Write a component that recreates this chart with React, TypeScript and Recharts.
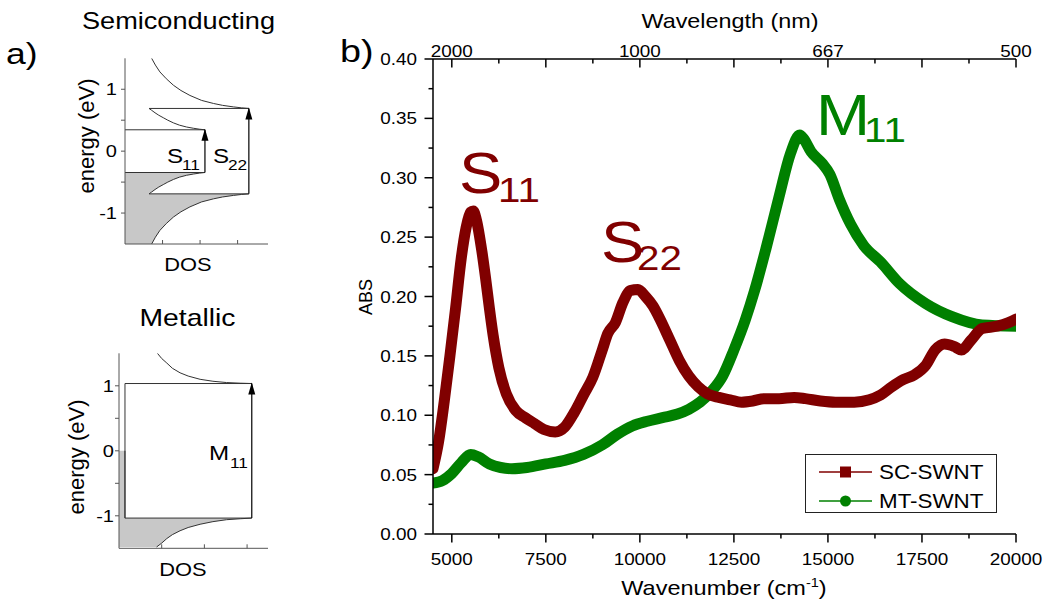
import * as React from 'react';
import { ComposedChart, LineChart, Line, Area, XAxis, YAxis, Legend } from 'recharts';

// ---------- panel b: absorbance spectra ----------
const scWave = [4500, 4650, 4800, 4950, 5100, 5250, 5380, 5500, 5570, 5650, 5800, 5900, 6000, 6100, 6250, 6450, 6700, 6950, 7200, 7450, 7750, 8000, 8250, 8500, 8750, 9000, 9150, 9350, 9550, 9750, 9950, 10150, 10350, 10550, 10800, 11050, 11300, 11550, 11800, 12100, 12400, 12700, 13000, 13300, 13700, 14100, 14400, 14800, 15200, 15700, 16100, 16400, 16700, 17000, 17300, 17600, 17850, 18100, 18350, 18550, 18800, 19100, 19500, 19800, 20000];
const scAbs = [0.055, 0.078, 0.112, 0.150, 0.190, 0.232, 0.258, 0.271, 0.272, 0.265, 0.238, 0.215, 0.190, 0.167, 0.140, 0.118, 0.104, 0.098, 0.093, 0.088, 0.086, 0.090, 0.102, 0.117, 0.132, 0.155, 0.169, 0.178, 0.195, 0.205, 0.206, 0.200, 0.192, 0.180, 0.163, 0.146, 0.133, 0.124, 0.118, 0.115, 0.113, 0.111, 0.112, 0.114, 0.114, 0.115, 0.114, 0.112, 0.111, 0.111, 0.113, 0.117, 0.124, 0.130, 0.134, 0.142, 0.155, 0.160, 0.158, 0.155, 0.163, 0.173, 0.175, 0.178, 0.181];

const mtWave = [4500, 4750, 5000, 5250, 5500, 5700, 6000, 6300, 6600, 7000, 7500, 8000, 8500, 9000, 9400, 9800, 10200, 10600, 11000, 11300, 11600, 11900, 12200, 12500, 12800, 13050, 13350, 13700, 14000, 14250, 14350, 14550, 14850, 15050, 15300, 15600, 15950, 16400, 16900, 17600, 18300, 19100, 20000];
const mtAbs = [0.043, 0.045, 0.051, 0.060, 0.067, 0.065, 0.059, 0.056, 0.055, 0.056, 0.059, 0.062, 0.067, 0.075, 0.084, 0.091, 0.095, 0.098, 0.101, 0.105, 0.111, 0.120, 0.133, 0.155, 0.180, 0.205, 0.240, 0.284, 0.320, 0.336, 0.333, 0.322, 0.312, 0.303, 0.282, 0.261, 0.243, 0.229, 0.211, 0.194, 0.183, 0.176, 0.175];

const waveTicks = [5000, 6250, 7500, 8750, 10000, 11250, 12500, 13750, 15000, 16250, 17500, 18750, 20000];
const nmLabels: Record<number, string> = { 5000: '2000', 10000: '1000', 15000: '667', 20000: '500' };
const absTicks = [0, 0.025, 0.05, 0.075, 0.1, 0.125, 0.15, 0.175, 0.2, 0.225, 0.25, 0.275, 0.3, 0.325, 0.35, 0.375, 0.4];

const seriesNames = ['SC-SWNT', 'MT-SWNT'];
const seriesColors = ['#800000', '#008000'];

// ---------- panel a: DOS sketches (d = DOS, e = energy in eV) ----------
const semiCondD = [0, 2.13, 1.98, 1.82, 1.64, 1.45, 1.29, 1.14, 1.02, 0.90, 0.80, 0.71, 0.64, 3.3, 3.1, 2.89, 2.6, 2.36, 2.04, 1.73, 1.49, 1.29, 1.10, 0.93, 0.81, 0.71];
const semiCondE = [0.345, 0.345, 0.355, 0.37, 0.39, 0.42, 0.457, 0.50, 0.54, 0.58, 0.62, 0.66, 0.69, 0.69, 0.70, 0.715, 0.74, 0.77, 0.82, 0.90, 0.98, 1.065, 1.17, 1.28, 1.39, 1.5];
const semiValD = [0, 2.13, 1.98, 1.82, 1.64, 1.45, 1.29, 1.14, 1.02, 0.90, 0.80, 0.71, 0.64, 3.3, 3.1, 2.89, 2.6, 2.36, 2.04, 1.73, 1.49, 1.29, 1.10, 0.93, 0.81, 0.71];
const semiValE = [-0.345, -0.345, -0.355, -0.37, -0.39, -0.42, -0.457, -0.50, -0.54, -0.58, -0.62, -0.66, -0.69, -0.69, -0.70, -0.715, -0.74, -0.77, -0.82, -0.90, -0.98, -1.065, -1.17, -1.28, -1.39, -1.5];
const semiArrowD = [2.13, 3.3];
const semiArrowFrom = [-0.345, -0.69];
const semiArrowTo = [0.345, 0.69];

const metCondD = [0.14, 0.14, 3.11, 2.85, 2.52, 2.2, 1.90, 1.62, 1.43, 1.25, 1.12, 1.0, 0.90];
const metCondE = [-1.035, 1.035, 1.035, 1.04, 1.05, 1.07, 1.10, 1.15, 1.20, 1.27, 1.35, 1.42, 1.50];
const metValD = [0.14, 0.14, 3.11, 2.85, 2.52, 2.2, 1.90, 1.62, 1.43, 1.25, 1.12, 1.0, 0.88];
const metValE = [0, -1.035, -1.035, -1.045, -1.06, -1.09, -1.13, -1.18, -1.23, -1.29, -1.35, -1.42, -1.48];
const metArrowD = [3.11];
const metArrowFrom = [-1.035];
const metArrowTo = [1.035];

const energyTicks = [-1, -0.5, 0, 0.5, 1];
const dosTicks = [0, 1, 2, 3];

const FONT = '"Liberation Sans", Arial, Helvetica, sans-serif';

const pts = (d: number[], e: number[]) => d.map((v, i) => ({ d: v, e: e[i] }));
const spectrum = (w: number[], a: number[]) => w.map((v, i) => ({ w: v, v: a[i] }));
const arrows = (d: number[], from: number[], to: number[]) =>
  d.map((v, i) => [
    { d: v, e: from[i] },
    { d: v, e: to[i], head: true },
  ]);

// the original figure is a bit stretched sideways, so text gets a scaleX
function T({ x, y, size, children, anchor = 'start', color = '#000', sx = 1.18, rot = 0 }: any) {
  return (
    <text
      transform={`translate(${x} ${y}) rotate(${rot}) scale(${sx} 1)`}
      fontSize={size}
      fill={color}
      textAnchor={anchor}
      fontFamily={FONT}
    >
      {children}
    </text>
  );
}

const isMajorWave = (v: number) => v % 2500 === 0;
const isMajorAbs = (v: number) => Math.round(v * 1000) % 50 === 0;

const BottomTick = ({ x, y, payload }: any) => {
  const major = isMajorWave(payload.value);
  return (
    <g>
      <line x1={x} x2={x} y1={y} y2={y + (major ? 8.5 : 4.5)} stroke="#000" strokeWidth={1.5} />
      {major && <T x={x} y={y + 31} size={16} anchor="middle">{payload.value}</T>}
    </g>
  );
};

const TopTick = ({ x, y, payload }: any) => {
  const major = isMajorWave(payload.value);
  const lab = nmLabels[payload.value];
  return (
    <g>
      <line x1={x} x2={x} y1={y} y2={y + (major ? 8.5 : 4.5)} stroke="#000" strokeWidth={1.5} />
      {lab && <T x={x} y={y - 2.5} size={16} anchor="middle">{lab}</T>}
    </g>
  );
};

const LeftTick = ({ x, y, payload }: any) => {
  const major = isMajorAbs(payload.value);
  return (
    <g>
      <line x1={x - (major ? 8.5 : 4.5)} x2={x} y1={y} y2={y} stroke="#000" strokeWidth={1.5} />
      {major && <T x={x - 16} y={y + 6} size={16} anchor="end">{payload.value.toFixed(2)}</T>}
    </g>
  );
};

const RightTick = ({ x, y, payload }: any) => {
  const major = isMajorAbs(payload.value);
  return <line x1={x - (major ? 8.5 : 4.5)} x2={x} y1={y} y2={y} stroke="#000" strokeWidth={1.5} />;
};

const EnergyTick = ({ x, y, payload, gap }: any) => {
  const v = payload.value;
  return (
    <g>
      <line x1={x - 4} x2={x} y1={y} y2={y} stroke="#555" />
      {Number.isInteger(v) && <T x={x - gap} y={y + 6} size={17} anchor="end">{v}</T>}
    </g>
  );
};

const DosTick = ({ x, y, payload }: any) =>
  payload.value > 0 ? <line x1={x} x2={x} y1={y} y2={y - 4} stroke="#555" /> : <g />;

const ArrowHead = (p: any) => {
  const { cx, cy, payload, index } = p;
  if (!payload || !payload.head) return <g key={`a${index}`} />;
  return <path key={`a${index}`} d={`M${cx},${cy - 1} L${cx - 3.5},${cy + 11} L${cx + 3.5},${cy + 11} Z`} fill="#000" />;
};

const LegendBox = () => (
  <div style={{ width: 192, height: 59, boxSizing: 'border-box', border: '1px solid #222', background: '#fff' }}>
    <svg width={190} height={57} style={{ display: 'block' }}>
      {seriesNames.map((name, i) => {
        const cy = 17 + i * 29;
        return (
          <g key={name}>
            <line x1={13} x2={66} y1={cy} y2={cy} stroke={seriesColors[i]} strokeOpacity={0.75} strokeWidth={2} />
            {i === 0 ? (
              <rect x={34} y={cy - 5.5} width={11} height={11} fill={seriesColors[i]} />
            ) : (
              <circle cx={39.5} cy={cy} r={5.5} fill={seriesColors[i]} />
            )}
            <T x={73} y={cy + 7} size={20} sx={1.12}>{name}</T>
          </g>
        );
      })}
    </svg>
  </div>
);

function DosPanel({ top, height, marginTop, axisW, axisH, dMax, cond, val, arrowList, gap }: any) {
  return (
    <div style={{ position: 'absolute', left: 40, top }}>
      <ComposedChart layout="vertical" width={240} height={height} margin={{ top: marginTop, right: 12, bottom: 0, left: 0 }}>
        <XAxis
          type="number"
          domain={[0, dMax]}
          allowDataOverflow
          ticks={dosTicks}
          interval={0}
          height={axisH}
          tickSize={0}
          tickMargin={0}
          tickLine={false}
          axisLine={{ stroke: '#555' }}
          tick={<DosTick />}
        />
        <YAxis
          type="number"
          dataKey="e"
          domain={[-1.5, 1.5]}
          reversed
          allowDataOverflow
          ticks={energyTicks}
          interval={0}
          width={axisW}
          tickSize={0}
          tickMargin={0}
          tickLine={false}
          axisLine={{ stroke: '#555' }}
          tick={<EnergyTick gap={gap} />}
        />
        <Area
          data={val}
          dataKey="d"
          type="linear"
          baseValue={0}
          fill="#c8c8c8"
          fillOpacity={1}
          stroke="#333"
          strokeWidth={1}
          dot={false}
          activeDot={false}
          isAnimationActive={false}
        />
        <Line data={cond} dataKey="d" type="linear" stroke="#333" strokeWidth={1} dot={false} activeDot={false} isAnimationActive={false} />
        {arrowList.map((a: any, i: number) => (
          <Line key={i} data={a} dataKey="d" type="linear" stroke="#000" strokeWidth={1.2} dot={ArrowHead} activeDot={false} isAnimationActive={false} />
        ))}
      </ComposedChart>
    </div>
  );
}

export default function App() {
  const scData = spectrum(scWave, scAbs);
  const mtData = spectrum(mtWave, mtAbs);

  return (
    <div style={{ position: 'absolute', left: 0, top: 0, width: 1049, height: 604, background: '#fff', overflow: 'hidden' }}>
      <DosPanel
        top={40}
        height={250}
        marginTop={18.3}
        axisW={85}
        axisH={46}
        dMax={3.81}
        cond={pts(semiCondD, semiCondE)}
        val={pts(semiValD, semiValE)}
        arrowList={arrows(semiArrowD, semiArrowFrom, semiArrowTo)}
        gap={8}
      />
      <DosPanel
        top={330}
        height={270}
        marginTop={23.3}
        axisW={79}
        axisH={51.7}
        dMax={3.49}
        cond={pts(metCondD, metCondE)}
        val={pts(metValD, metValE)}
        arrowList={arrows(metArrowD, metArrowFrom, metArrowTo)}
        gap={5}
      />

      <div style={{ position: 'absolute', left: 340, top: 0 }}>
        <LineChart width={709} height={604} margin={{ top: 29, right: 33, bottom: 0, left: 0 }}>
          <XAxis
            xAxisId="bottom"
            type="number"
            dataKey="w"
            domain={[4500, 20000]}
            allowDataOverflow
            ticks={waveTicks}
            interval={0}
            height={70}
            tickSize={0}
            tickMargin={0}
            tickLine={false}
            axisLine={{ stroke: '#000', strokeWidth: 1.5 }}
            tick={<BottomTick />}
          />
          <XAxis
            xAxisId="top"
            orientation="top"
            type="number"
            dataKey="w"
            domain={[4500, 20000]}
            allowDataOverflow
            ticks={waveTicks}
            interval={0}
            height={30}
            tickSize={0}
            tickMargin={0}
            tickLine={false}
            axisLine={{ stroke: '#000', strokeWidth: 1.5 }}
            tick={<TopTick />}
          />
          <YAxis
            yAxisId="left"
            type="number"
            domain={[0, 0.4]}
            allowDataOverflow
            ticks={absTicks}
            interval={0}
            width={93}
            tickSize={0}
            tickMargin={0}
            tickLine={false}
            axisLine={{ stroke: '#000', strokeWidth: 1.5 }}
            tick={<LeftTick />}
          />
          <YAxis
            yAxisId="right"
            orientation="right"
            type="number"
            domain={[0, 0.4]}
            allowDataOverflow
            ticks={absTicks}
            interval={0}
            width={0}
            tickSize={0}
            tickMargin={0}
            tickLine={false}
            axisLine={{ stroke: '#000', strokeWidth: 1.5 }}
            tick={<RightTick />}
          />
          <Line
            xAxisId="bottom"
            yAxisId="left"
            data={mtData}
            dataKey="v"
            name={seriesNames[1]}
            type="monotone"
            stroke={seriesColors[1]}
            strokeWidth={11}
            strokeLinejoin="round"
            strokeLinecap="round"
            dot={false}
            activeDot={false}
            isAnimationActive={false}
          />
          <Line
            xAxisId="bottom"
            yAxisId="left"
            data={scData}
            dataKey="v"
            name={seriesNames[0]}
            type="monotone"
            stroke={seriesColors[0]}
            strokeWidth={11}
            strokeLinejoin="round"
            strokeLinecap="round"
            dot={false}
            activeDot={false}
            isAnimationActive={false}
          />
          <Legend
            layout="horizontal"
            verticalAlign="middle"
            align="center"
            wrapperStyle={{ left: 465, top: 454, width: 192, height: 59, right: 'auto', bottom: 'auto' }}
            content={() => <LegendBox />}
          />
        </LineChart>
      </div>

      {/* titles, axis names and peak labels */}
      <svg width={1049} height={604} style={{ position: 'absolute', left: 0, top: 0, pointerEvents: 'none' }}>
        <T x={6} y={64} size={30}>a)</T>
        <T x={340} y={62} size={32}>b)</T>
        <T x={178.5} y={29} size={23} anchor="middle">Semiconducting</T>
        <T x={187.5} y={326} size={24} anchor="middle">Metallic</T>
        <T x={94} y={136} size={22} anchor="middle" rot={-90} sx={1}>energy (eV)</T>
        <T x={84} y={457} size={22} anchor="middle" rot={-90} sx={1}>energy (eV)</T>
        <T x={188} y={271} size={19} anchor="middle" sx={1.15}>DOS</T>
        <T x={183} y={576} size={19} anchor="middle" sx={1.15}>DOS</T>

        <T x={167} y={163} size={21} sx={1.15}>S</T>
        <T x={182} y={170} size={15} sx={1.15}>11</T>
        <T x={213} y={163} size={21} sx={1.15}>S</T>
        <T x={228} y={170} size={15} sx={1.15}>22</T>
        <T x={209} y={460} size={21} sx={1.15}>M</T>
        <T x={230} y={468} size={15} sx={1.15}>11</T>

        <T x={730} y={28} size={20} anchor="middle" sx={1.17}>Wavelength (nm)</T>
        <T x={724} y={595} size={21} anchor="middle" sx={1.12}>
          Wavenumber (cm<tspan dy={-8} fontSize={13}>-1</tspan><tspan dy={8} fontSize={21}>)</tspan>
        </T>
        <T x={372} y={297} size={18} anchor="middle" rot={-90} sx={1}>ABS</T>

        <T x={459} y={193} size={58} color="#800000" sx={1.12}>S</T>
        <T x={498} y={202} size={36} color="#800000" sx={1.12}>11</T>
        <T x={601} y={262} size={58} color="#800000" sx={1.12}>S</T>
        <T x={637} y={270} size={36} color="#800000" sx={1.12}>22</T>
        <T x={816} y={135} size={58} color="#008000" sx={1.12}>M</T>
        <T x={864} y={142} size={36} color="#008000" sx={1.12}>11</T>
      </svg>
    </div>
  );
}
